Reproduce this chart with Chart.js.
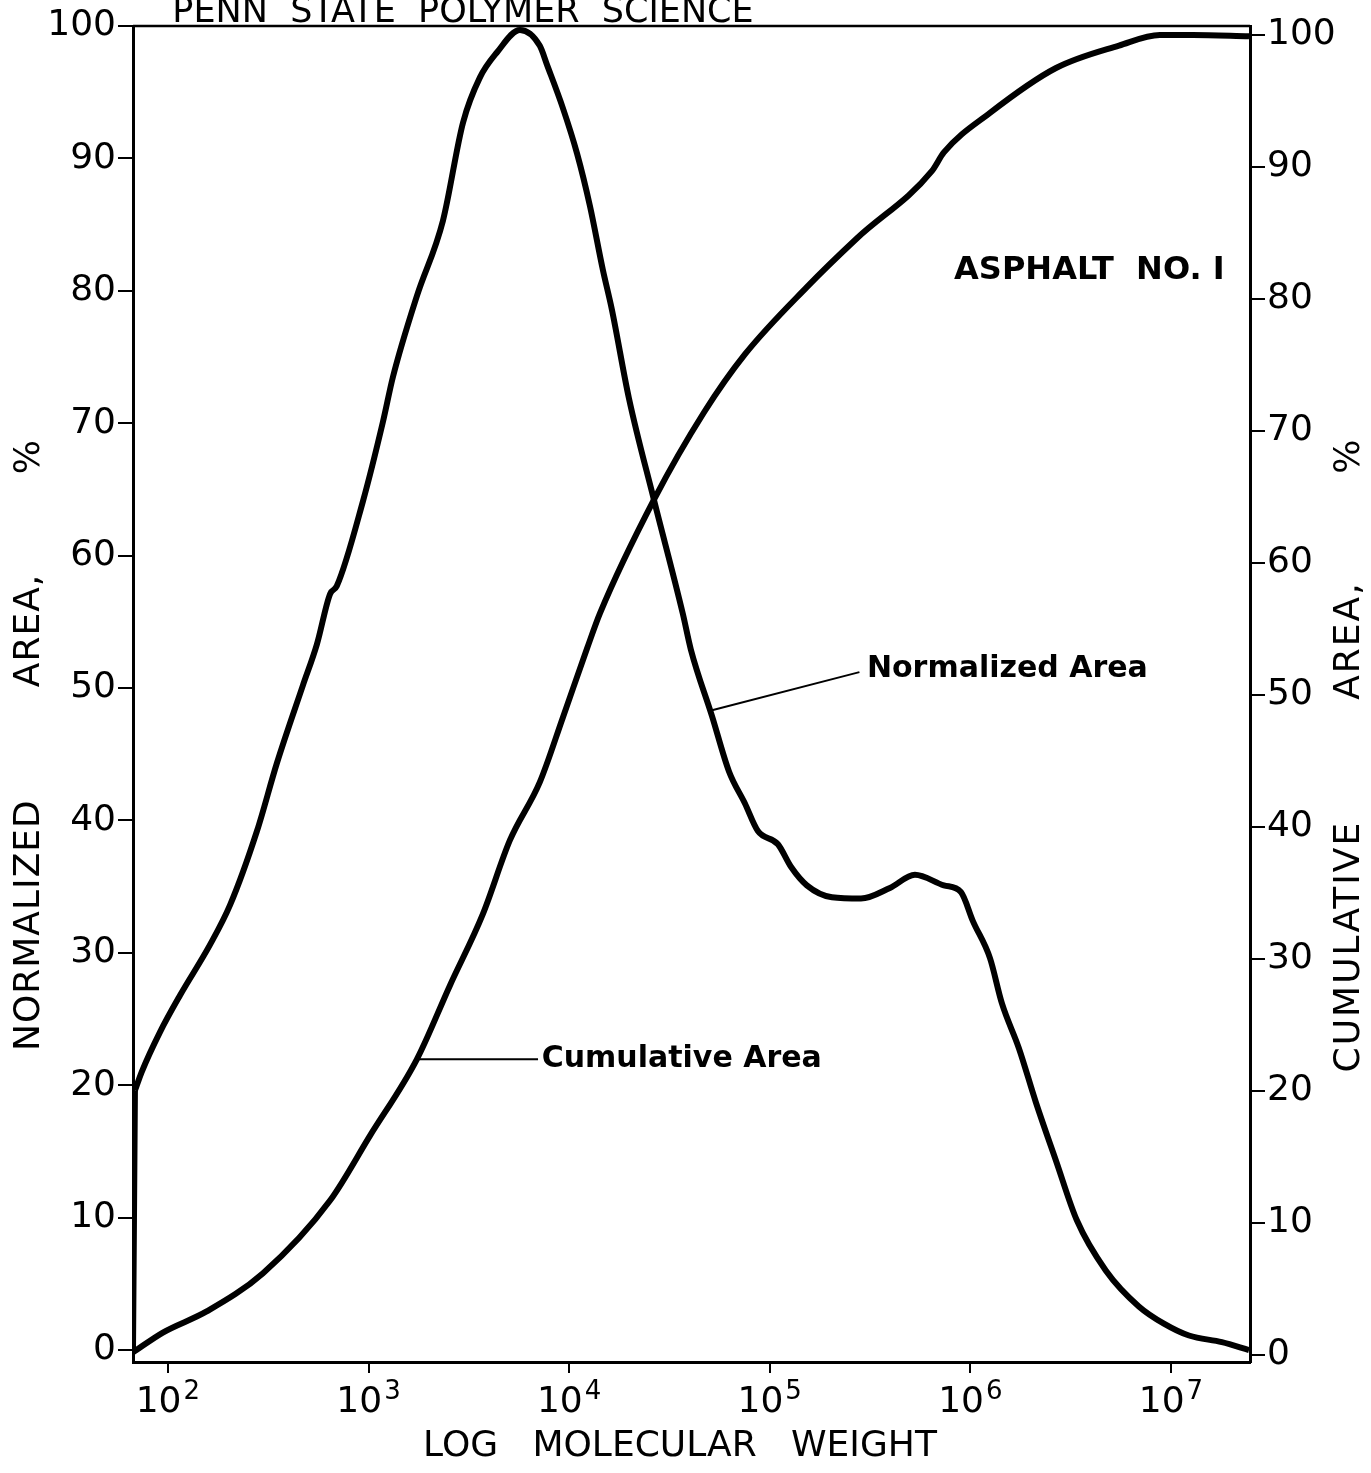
<!DOCTYPE html>
<html>
<head>
<meta charset="utf-8">
<title>Asphalt No. 1 - Log Molecular Weight</title>
<script src="https://cdn.jsdelivr.net/npm/chart.js@4.4.1/dist/chart.umd.min.js"></script>
<style>
    html, body { margin: 0; padding: 0; background: #fff; }
    #grafico { display: block; }
</style>
</head>
<body>
<canvas id="grafico" width="1371" height="1473"></canvas>
<script>
// Valores (peso molecular en eje log)
// subida vertical del inicio de la curva normalizada (va aparte para que la curva no se deforme)
const normStartMW = [67, 68.5];
const normStartArea = [0, 19.6];

const normMW = [68.5, 74, 91.2, 115, 162, 204, 278, 349, 471, 553, 643, 695, 938, 1180, 1324, 1742, 2350, 2958, 3589,
    4365, 5689, 7145, 7745, 9311, 10940, 12705, 14723, 16330, 19860, 26490, 36900, 40460, 51520, 62660, 75160, 87300, 109900,
    127600, 153100, 204200, 285100, 397200, 529700, 738000, 897500, 1030000, 1253000, 1436000, 1746000, 2123000,
    2673000, 3396000, 4742000, 6918000, 9226000, 12300000, 17950000, 24500000];
const normArea = [19.6, 21.0, 24.0, 26.8, 30.6, 33.6, 39.2, 44.3, 50.2, 53.3, 57.1, 57.7, 64.1, 70.1, 73.5, 79.6, 85.3, 92.7, 96.1,
    98.0, 99.7, 98.5, 97.1, 93.8, 90.4, 86.4, 81.6, 78.6, 71.9, 64.2, 55.6, 52.9, 47.9, 43.7, 41.3, 39.2, 38.2,
    36.5, 35.1, 34.2, 34.1, 34.9, 35.9, 35.1, 34.6, 32.4, 29.6, 26.2, 22.8, 18.7,
    14.3, 9.8, 6.0, 3.3, 2.0, 1.1, 0.6, 0];

const cumMW = [67, 94.4, 156, 298, 643, 1016, 1742, 2547, 3715, 5070, 7145, 9311, 12270, 14260, 26490, 46990,
    75160, 153100, 272300, 644200, 738000, 1253000, 2673000, 5508000, 8810000, 12880000, 24500000];
const cumArea = [0.2, 1.7, 3.3, 6.2, 11.7, 16.6, 22.4, 28.0, 33.4, 39.0, 43.4, 48.3, 53.5, 56.2, 64.8, 71.4,
    75.8, 80.9, 84.6, 89.7, 91.1, 94.1, 97.5, 99.2, 100, 100, 99.9];

const xTickValues = [1e2, 1e3, 1e4, 1e5, 1e6, 1e7];
const xTickExp = ["2", "3", "4", "5", "6", "7"];
const yTickValues = [0, 10, 20, 30, 40, 50, 60, 70, 80, 90, 100];

const FUENTE = '"DejaVu Sans", "Liberation Sans", sans-serif';

function puntos(xs, ys) {
    return xs.map((x, i) => ({ x: x, y: ys[i] }));
}

function textoGirado(ctx, txt, x, y) {
    ctx.save();
    ctx.translate(x, y);
    ctx.rotate(-Math.PI / 2);
    ctx.fillText(txt, 0, 0);
    ctx.restore();
}

// textos, marco superior, etiquetas 10^n y lineas de las etiquetas
const textosExtra = {
    id: "textosExtra",
    afterDraw(chart) {
        const { ctx, chartArea } = chart;
        const sx = chart.scales.x, sy = chart.scales.y, sy1 = chart.scales.y1;
        ctx.save();
        ctx.fillStyle = "#000";
        ctx.strokeStyle = "#000";

        // linea de arriba del marco
        ctx.lineWidth = 2.5;
        ctx.beginPath();
        ctx.moveTo(chartArea.left, chartArea.top);
        ctx.lineTo(chartArea.right, chartArea.top);
        ctx.stroke();

        // etiquetas del eje x: 10 con exponente
        ctx.textBaseline = "alphabetic";
        ctx.textAlign = "left";
        xTickValues.forEach((v, i) => {
            const px = sx.getPixelForValue(v);
            ctx.font = "36px " + FUENTE;
            const w10 = ctx.measureText("10").width;
            ctx.font = "26px " + FUENTE;
            const wExp = ctx.measureText(xTickExp[i]).width;
            const x0 = px - (w10 + wExp + 2) / 2;
            ctx.font = "36px " + FUENTE;
            ctx.fillText("10", x0, 1412);
            ctx.font = "26px " + FUENTE;
            ctx.fillText(xTickExp[i], x0 + w10 + 2, 1399);
        });

        // lineas guia de las curvas
        ctx.lineWidth = 2;
        ctx.beginPath();
        ctx.moveTo(sx.getPixelForValue(51000), sy.getPixelForValue(48.3));
        ctx.lineTo(sx.getPixelForValue(280000), sy.getPixelForValue(51.2));
        ctx.moveTo(sx.getPixelForValue(1760), sy1.getPixelForValue(22.4));
        ctx.lineTo(sx.getPixelForValue(7000), sy1.getPixelForValue(22.4));
        ctx.stroke();

        ctx.textBaseline = "middle";
        ctx.font = "bold 30px " + FUENTE;
        ctx.fillText("Normalized Area", sx.getPixelForValue(305000), sy.getPixelForValue(51.4));
        ctx.fillText("Cumulative Area", sx.getPixelForValue(7300), sy1.getPixelForValue(22.4));

        ctx.font = "bold 32px " + FUENTE;
        ctx.fillText("ASPHALT  NO. I", sx.getPixelForValue(830000), sy.getPixelForValue(81.5));

        // titulo de arriba (cortado en el original)
        ctx.textAlign = "center";
        ctx.textBaseline = "alphabetic";
        ctx.font = "35px " + FUENTE;
        ctx.fillText("PENN  STATE  POLYMER  SCIENCE", 463, 22);

        // titulo eje x
        ctx.textBaseline = "middle";
        ctx.font = "36px " + FUENTE;
        ctx.fillText("LOG   MOLECULAR   WEIGHT", 680, 1447);

        // titulos ejes y (los dos se leen de abajo hacia arriba)
        ctx.letterSpacing = "1px";
        textoGirado(ctx, "NORMALIZED" + " ".repeat(9) + "AREA," + " ".repeat(8) + "%", 30, 745);
        ctx.letterSpacing = "2px";
        textoGirado(ctx, "CUMULATIVE" + " ".repeat(9) + "AREA," + " ".repeat(8) + "%", 1350, 755);
        ctx.letterSpacing = "0px";

        ctx.restore();
    }
};

const ejeY = {
    min: -0.9,
    max: 100,
    afterBuildTicks: s => { s.ticks = yTickValues.map(v => ({ value: v })); },
    grid: { drawOnChartArea: false, drawTicks: true, tickLength: 15, color: "#000", lineWidth: 2 },
    border: { display: true, color: "#000", width: 3 },
    ticks: { color: "#000", padding: 2, font: { family: FUENTE, size: 36 } }
};

const estiloCurva = {
    borderColor: "#000",
    borderWidth: 6,
    pointRadius: 0,
    cubicInterpolationMode: "monotone",
    fill: false
};

new Chart(document.getElementById("grafico"), {
    type: "line",
    data: {
        datasets: [
            Object.assign({ label: "Normalized Area (inicio)", data: puntos(normStartMW, normStartArea), yAxisID: "y" }, estiloCurva),
            Object.assign({ label: "Normalized Area", data: puntos(normMW, normArea), yAxisID: "y" }, estiloCurva),
            Object.assign({ label: "Cumulative Area", data: puntos(cumMW, cumArea), yAxisID: "y1" }, estiloCurva)
        ]
    },
    options: {
        responsive: false,
        animation: false,
        layout: { padding: { top: 26 } },
        plugins: { legend: { display: false }, tooltip: { enabled: false }, title: { display: false } },
        scales: {
            x: {
                type: "logarithmic",
                min: 67,
                max: 24780000,
                afterBuildTicks: s => { s.ticks = xTickValues.map(v => ({ value: v })); },
                afterFit: s => { s.height = 111; },
                grid: { drawOnChartArea: false, drawTicks: true, tickLength: 11, color: "#000", lineWidth: 2 },
                border: { display: true, color: "#000", width: 3 },
                // las etiquetas 10^n se dibujan en el plugin
                ticks: { maxRotation: 0, autoSkip: false, callback: () => "" }
            },
            y: Object.assign({}, ejeY, {
                position: "left",
                afterFit: s => { s.width = 133; }
            }),
            y1: Object.assign({}, ejeY, {
                position: "right",
                min: -0.53,
                max: 100.68,
                afterFit: s => { s.width = 121; }
            })
        }
    },
    plugins: [textosExtra]
});
</script>
</body>
</html>
